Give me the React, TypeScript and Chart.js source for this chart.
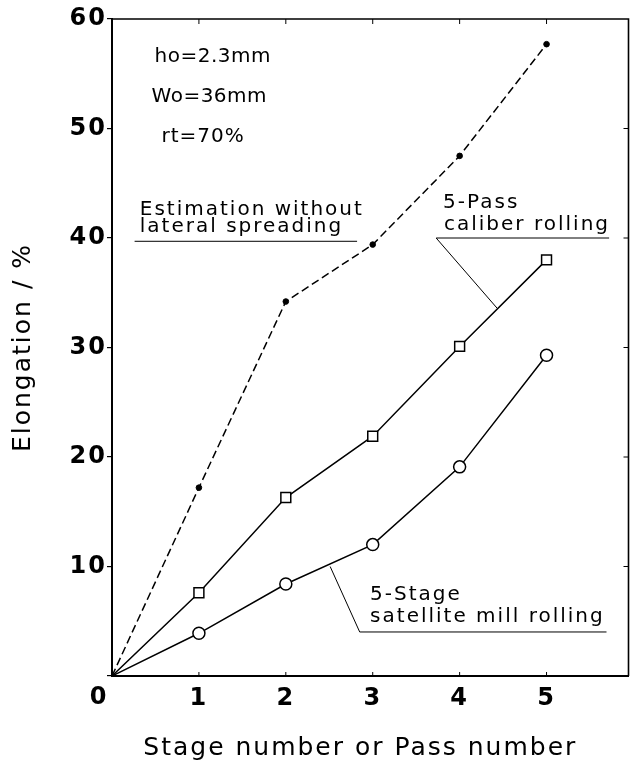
import React, { useEffect, useRef } from "react";
import { Chart, registerables } from "chart.js";

Chart.register(...registerables);

// ---- data ----
const stages = [0, 1, 2, 3, 4, 5];
const estimationNoSpread = [0, 17.2, 34.2, 39.4, 47.5, 57.7];
const passCaliber = [0, 7.6, 16.3, 21.9, 30.1, 38.0];
const stageSatellite = [0, 3.9, 8.4, 12.0, 19.1, 29.3];

const xTickValues = [0, 1, 2, 3, 4, 5];
const xTickLabels = ["", "1", "2", "3", "4", "5"];
const yTickValues = [0, 10, 20, 30, 40, 50, 60];
const yTickLabels = ["", "10", "20", "30", "40", "50", "60"];
const originLabel = "0";

const xTitle = "Stage number or Pass number  ";
const yTitle = "Elongation / %";

// annotation texts, anchored in data units
const noteTexts = [
  { text: "ho=2.3mm", x: 0.49, y: 56.1, spacing: "0.5px" },
  { text: "Wo=36mm", x: 0.455, y: 52.4, spacing: "0.5px" },
  { text: "rt=70%", x: 0.57, y: 48.8, spacing: "1px" },
  { text: "Estimation without", x: 0.32, y: 42.1, spacing: "2px" },
  { text: "lateral spreading", x: 0.32, y: 40.55, spacing: "2px" },
  { text: "5-Pass", x: 3.81, y: 42.7, spacing: "2px" },
  { text: "caliber rolling", x: 3.82, y: 40.7, spacing: "2px" },
  { text: "5-Stage", x: 2.97, y: 6.94, spacing: "2px" },
  { text: "satellite mill rolling", x: 2.97, y: 4.93, spacing: "2px" },
];
const noteLines = [
  [[0.26, 39.7], [2.82, 39.7]],
  [[3.73, 40.0], [5.72, 40.0]],
  [[3.73, 40.0], [4.43, 33.6]],
  [[2.85, 4.02], [5.69, 4.02]],
  [[2.85, 4.02], [2.51, 10.0]],
];

const FONT = '"DejaVu Sans", sans-serif';

const pts = (ys: number[]) => ys.map((v, i) => ({ x: stages[i], y: v }));

const frameNotesPlugin = {
  id: "frameNotes",
  beforeDraw(chart: any) {
    chart.ctx.letterSpacing = "2px";
  },
  afterDraw(chart: any) {
    const ctx = chart.ctx as CanvasRenderingContext2D;
    const a = chart.chartArea;
    const xs = chart.scales.x;
    const ys = chart.scales.y;
    ctx.save();
    ctx.strokeStyle = "#000";
    ctx.fillStyle = "#000";
    // top & right frame
    ctx.lineWidth = 1.6;
    ctx.beginPath();
    ctx.moveTo(a.left, a.top);
    ctx.lineTo(a.right, a.top);
    ctx.lineTo(a.right, a.bottom);
    ctx.stroke();
    // inward ticks
    ctx.lineWidth = 1;
    ctx.beginPath();
    xTickValues.forEach((v) => {
      if (v === 0) return;
      const px = xs.getPixelForValue(v);
      ctx.moveTo(px, a.top);
      ctx.lineTo(px, a.top + 5);
      ctx.moveTo(px, a.bottom);
      ctx.lineTo(px, a.bottom - 4);
    });
    yTickValues.forEach((v) => {
      if (v === 0 || v === 60) return;
      const py = ys.getPixelForValue(v);
      ctx.moveTo(a.right, py);
      ctx.lineTo(a.right - 5, py);
    });
    ctx.stroke();
    // origin label
    ctx.font = `bold 24px ${FONT}`;
    ctx.letterSpacing = "2px";
    ctx.textAlign = "center";
    ctx.textBaseline = "middle";
    ctx.fillText(originLabel, a.left - 13, a.bottom + 22);
    // notes
    ctx.font = `20px ${FONT}`;
    ctx.textAlign = "left";
    ctx.textBaseline = "alphabetic";
    noteTexts.forEach((n) => {
      ctx.letterSpacing = n.spacing;
      ctx.fillText(n.text, xs.getPixelForValue(n.x), ys.getPixelForValue(n.y));
    });
    ctx.lineWidth = 1;
    ctx.beginPath();
    noteLines.forEach(([p, q]) => {
      ctx.moveTo(xs.getPixelForValue(p[0]), ys.getPixelForValue(p[1]));
      ctx.lineTo(xs.getPixelForValue(q[0]), ys.getPixelForValue(q[1]));
    });
    ctx.stroke();
    ctx.restore();
    ctx.letterSpacing = "0px";
  },
};

export default function App() {
  const ref = useRef<HTMLCanvasElement | null>(null);
  useEffect(() => {
    if (!ref.current) return;
    const chart = new Chart(ref.current, {
      type: "line",
      data: {
        datasets: [
          {
            label: "Estimation without lateral spreading",
            data: pts(estimationNoSpread),
            borderColor: "#000",
            borderWidth: 1.5,
            borderDash: [8, 4],
            pointStyle: "circle",
            pointRadius: estimationNoSpread.map((_, i) => (i === 0 ? 0 : 2.8)),
            pointBackgroundColor: "#000",
            pointBorderColor: "#000",
            pointBorderWidth: 1,
            tension: 0,
          },
          {
            label: "5-Pass caliber rolling",
            data: pts(passCaliber),
            borderColor: "#000",
            borderWidth: 1.5,
            pointStyle: "rect",
            pointRadius: passCaliber.map((_, i) => (i === 0 ? 0 : 7)),
            pointBackgroundColor: "#fff",
            pointBorderColor: "#000",
            pointBorderWidth: 1.5,
            tension: 0,
          },
          {
            label: "5-Stage satellite mill rolling",
            data: pts(stageSatellite),
            borderColor: "#000",
            borderWidth: 1.5,
            pointStyle: "circle",
            pointRadius: stageSatellite.map((_, i) => (i === 0 ? 0 : 6)),
            pointBackgroundColor: "#fff",
            pointBorderColor: "#000",
            pointBorderWidth: 1.5,
            tension: 0,
          },
        ],
      },
      options: {
        animation: false,
        responsive: false,
        devicePixelRatio: 1,
        layout: { padding: { top: 19, right: 2, left: 0, bottom: 0 } },
        plugins: {
          legend: { display: false },
          tooltip: { enabled: false },
        },
        font: { family: FONT },
        scales: {
          x: {
            type: "linear",
            min: 0,
            max: 5.943,
            afterBuildTicks: (s: any) => {
              s.ticks = xTickValues.map((v) => ({ value: v }));
            },
            afterFit: (s: any) => {
              s.height = 87;
            },
            ticks: {
              color: "#000",
              font: { family: FONT, size: 24, weight: "bold" },
              padding: 8,
              maxRotation: 0,
              autoSkip: false,
              callback: (v: any) => xTickLabels[xTickValues.indexOf(Number(v))] ?? "",
            },
            grid: { display: false, drawTicks: false },
            border: { display: true, color: "#000", width: 2 },
            title: {
              display: true,
              text: xTitle,
              color: "#000",
              font: { family: FONT, size: 25 },
              padding: { top: 0, bottom: 0 },
            },
          },
          y: {
            type: "linear",
            min: 0,
            max: 60,
            afterBuildTicks: (s: any) => {
              s.ticks = yTickValues.map((v) => ({ value: v }));
            },
            afterFit: (s: any) => {
              s.width = 112;
            },
            ticks: {
              color: "#000",
              font: { family: FONT, size: 24, weight: "bold" },
              padding: 0,
              autoSkip: false,
              callback: (v: any) => yTickLabels[yTickValues.indexOf(Number(v))] ?? "",
            },
            grid: {
              display: true,
              drawOnChartArea: false,
              drawTicks: true,
              tickLength: 5,
              color: "#000",
              lineWidth: 1.2,
            },
            border: { display: true, color: "#000", width: 2 },
            title: {
              display: true,
              text: yTitle,
              color: "#000",
              font: { family: FONT, size: 25 },
              padding: { top: 8, bottom: 0 },
            },
          },
        },
      },
      plugins: [frameNotesPlugin],
    } as any);
    return () => chart.destroy();
  }, []);
  return (
    <div style={{ position: "absolute", left: 0, top: 0, width: 637, height: 763, background: "#fff" }}>
      <canvas ref={ref} width={637} height={763} style={{ width: 637, height: 763, display: "block" }} />
    </div>
  );
}
